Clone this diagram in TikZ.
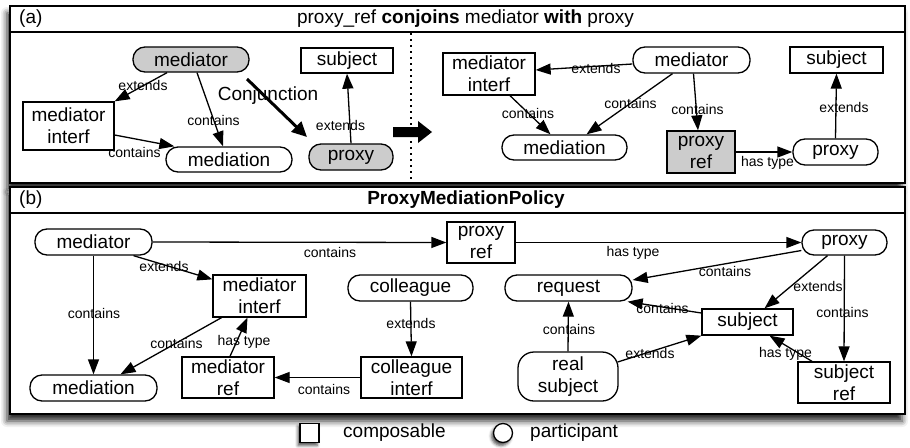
\documentclass[tikz,border=0pt]{standalone}
\usepackage{fontspec}
\setmainfont{Liberation Sans}
\usetikzlibrary{arrows.meta, shadows.blur, calc}

\newcommand\nodefont{\fontsize{19}{22}\selectfont}
\newcommand\lblfont{\fontsize{14}{16}\selectfont}

\begin{document}
\begin{tikzpicture}[x=1pt, y=-1pt,
  comp/.style={draw, line width=1.3pt, rectangle, inner sep=0pt, align=center, font=\nodefont},
  part/.style={comp, rounded corners=12pt},
  shaded/.style={fill=black!20},
  lbl/.style={font=\lblfont, inner sep=0pt},
  txt/.style={font=\nodefont, inner sep=0pt},
  rel/.style={line width=1.3pt, -{Triangle[length=15pt,width=11pt,fill=black]}},
  panel/.style={line width=1.7pt},
  panelshadow/.style={blur shadow={shadow xshift=-3pt, shadow yshift=-7pt, shadow blur radius=6pt, shadow opacity=85}},
  smallshadow/.style={blur shadow={shadow xshift=-2pt, shadow yshift=-3pt, shadow blur radius=3pt, shadow opacity=70}},
]
\useasboundingbox (0,0) rectangle (910,447);

% panel frames with their shadows
\path[panelshadow] (10,6) rectangle (905,183);
\path[panelshadow] (10,187) rectangle (905,414);
\draw[panel, fill=white] (10,6) rectangle (905,183);
\draw[panel] (10,32) -- (905,32);
\draw[panel, fill=white] (10,187) rectangle (905,414);
\draw[panel] (10,213) -- (905,213);

% headers
\node[txt, anchor=west] (hda) at (19,19) {(a)};
\node[txt] (tta) at (465.5,19) {proxy\_ref \textbf{conjoins} mediator \textbf{with} proxy};
\node[txt, anchor=west] (hdb) at (19,200) {(b)};
\node[txt] (ttb) at (466,200) {\textbf{ProxyMediationPolicy}};

% ---------- (a) before conjunction ----------
\node[part, shaded, minimum width=116pt, minimum height=25pt] (ma) at (191,59.5) {mediator};
\node[comp, minimum width=91pt, minimum height=48pt] (mia) at (68.5,126) {mediator\\interf};
\node[part, minimum width=126pt, minimum height=25pt] (mdna) at (229,159.5) {mediation};
\node[comp, minimum width=92pt, minimum height=25pt] (sa) at (347,60.5) {subject};
\node[part, shaded, minimum width=84pt, minimum height=26pt] (pa) at (351,157) {proxy};

\draw[rel] (ma) -- (mia.north east);
\draw[rel] ([xshift=6pt]ma.south) -- ([xshift=-6pt]mdna.north);
\draw[rel] ([yshift=-9pt]mia.east) -- ([xshift=9pt]mdna.north west);
\draw[rel] (pa.north) -- (sa.south);

\node[lbl] (la1) at (143,85) {extends};
\node[lbl] (la2) at (213.5,120) {contains};
\node[lbl] (la3) at (134.5,152) {contains};
\node[lbl] (la4) at (340.5,125) {extends};

% conjunction
\coordinate (cj1) at (247,79);
\coordinate (cj2) at (307,137);
\draw[line width=3pt, -{Triangle[length=15pt,width=14pt,fill=black]}] (cj1) -- (cj2);
\node[txt] (cjl) at (268,96) {Conjunction};

% separator and result arrow
\draw[line width=1.5pt, dash pattern=on 2pt off 4pt] (411,33) -- (411,182);
\fill (393,127) -- (418,127) -- (418,121) -- (432,132) -- (418,143) -- (418,137) -- (393,137) -- cycle;

% ---------- (a) after conjunction ----------
\node[comp, minimum width=92pt, minimum height=42pt] (mir) at (489,74) {mediator\\interf};
\node[part, minimum width=117pt, minimum height=26pt] (mr) at (691.5,60) {mediator};
\node[comp, minimum width=93pt, minimum height=26pt] (sr) at (836.5,60) {subject};
\node[part, minimum width=125pt, minimum height=25pt] (mdnr) at (564.5,147.5) {mediation};
\node[comp, shaded, minimum width=68pt, minimum height=42pt] (prr) at (701,152) {proxy\\ref};
\node[part, minimum width=85pt, minimum height=26pt] (pr) at (835.5,152) {proxy};

\draw[rel] ([yshift=-4pt]mr.west) -- ([yshift=4pt]mir.east);
\draw[rel] ([xshift=21pt]mir.south) -- ([xshift=-14pt]mdnr.north);
\draw[rel] ([xshift=-19pt]mr.south) -- ([xshift=22pt]mdnr.north);
\draw[rel] ([xshift=2pt]mr.south) -- ([xshift=-3pt]prr.north);
\draw[rel] (prr.east) -- (pr.west);
\draw[rel] (pr.north) -- (sr.south);

\node[lbl] (lr1) at (596,68) {extends};
\node[lbl] (lr2) at (528,113) {contains};
\node[lbl] (lr3) at (630.5,103) {contains};
\node[lbl] (lr4) at (697.5,109) {contains};
\node[lbl] (lr5) at (767.5,163) {has type};
\node[lbl] (lr6) at (844,107) {extends};

% ---------- (b) ProxyMediationPolicy ----------
\node[part, minimum width=117pt, minimum height=26pt] (mb) at (93.5,242) {mediator};
\node[comp, minimum width=93pt, minimum height=42pt] (mib) at (259.5,296) {mediator\\interf};
\node[part, minimum width=125pt, minimum height=26pt] (colb) at (410.5,288) {colleague};
\node[part, minimum width=127pt, minimum height=26pt] (mdnb) at (93.5,388) {mediation};
\node[comp, minimum width=92pt, minimum height=41pt] (mrefb) at (228,377.5) {mediator\\ref};
\node[comp, minimum width=101pt, minimum height=41pt] (cib) at (411.5,377.5) {colleague\\interf};
\node[comp, minimum width=68pt, minimum height=41pt] (prb) at (481,242.5) {proxy\\ref};
\node[part, minimum width=85pt, minimum height=25pt] (pb) at (844.5,242.5) {proxy};
\node[part, minimum width=127pt, minimum height=26pt] (rqb) at (568.5,288) {request};
\node[comp, minimum width=91pt, minimum height=26pt] (sb) at (747.5,322) {subject};
\node[comp, rounded corners=16pt, minimum width=100pt, minimum height=49pt] (rsb) at (568,376.5) {real\\subject};
\node[comp, minimum width=92pt, minimum height=41pt] (srb) at (844,382.5) {subject\\ref};

\draw[rel] (mb.east) -- (prb.west);
\draw[rel] (prb.east) -- (pb.west);
\draw[rel] ([xshift=40pt]mb.south) -- ([yshift=-5pt]mib.north west);
\draw[rel] (mb.south) -- (mdnb.north);
\draw[rel] ([xshift=-38pt]mib.south) -- ([xshift=27pt]mdnb.north);
\draw[rel] ([xshift=2pt]mrefb.north) -- ([xshift=-12pt]mib.south);
\draw[rel] (colb.south) -- (cib.north);
\draw[rel] (cib.west) -- (mrefb.east);
\draw[rel] ([yshift=-8pt]pb.west) -- ([yshift=8pt]rqb.east);
\draw[rel] ([xshift=-17pt]pb.south) -- ([xshift=17pt]sb.north);
\draw[rel] (pb.south) -- (srb.north);
\draw[rel] ([yshift=9pt]sb.west) -- ([xshift=-5pt]rqb.south east);
\draw[rel] (rsb.north) -- (rqb.south);
\draw[rel] ([xshift=-1pt,yshift=14.5pt]rsb.east) -- (sb.south west);
\draw[rel] ([xshift=-32pt]srb.north) -- ([xshift=22pt]sb.south);

\node[lbl] (lb1) at (330,252) {contains};
\node[lbl] (lb2) at (164,266) {extends};
\node[lbl] (lb3) at (94,313) {contains};
\node[lbl] (lb4) at (176.5,343) {contains};
\node[lbl] (lb5) at (244,342) {has type};
\node[lbl] (lb6) at (411,323) {extends};
\node[lbl] (lb7) at (324,389) {contains};
\node[lbl] (lb8) at (633,253) {has type};
\node[lbl] (lb9) at (725,271) {contains};
\node[lbl] (lb10) at (818,286) {extends};
\node[lbl] (lb11) at (842.5,312) {contains};
\node[lbl] (lb12) at (662.5,308) {contains};
\node[lbl] (lb13) at (569,329) {contains};
\node[lbl] (lb14) at (650,353) {extends};
\node[lbl] (lb15) at (785.5,354) {has type};

% legend
\node[draw, line width=1.3pt, fill=white, inner sep=0pt, minimum size=19pt, smallshadow] (lgc) at (309.5,433) {};
\node[txt, anchor=west] (lgct) at (343,433) {composable};
\node[draw, circle, line width=1.3pt, fill=white, inner sep=0pt, minimum size=19pt, smallshadow] (lgp) at (503,433) {};
\node[txt, anchor=west] (lgpt) at (530,433) {participant};
\end{tikzpicture}
\end{document}
